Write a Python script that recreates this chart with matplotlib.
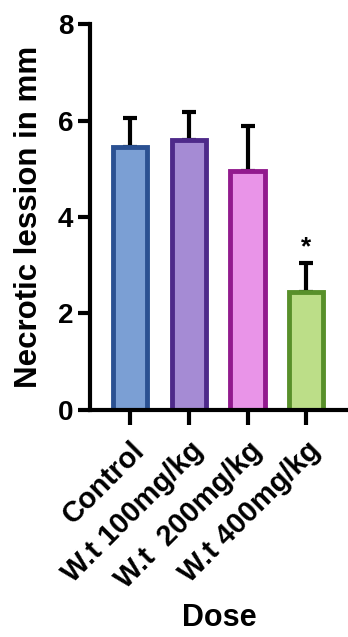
import numpy as np
import matplotlib.pyplot as plt

plt.rcParams['font.family'] = ['Liberation Sans', 'DejaVu Sans']
plt.rcParams['font.weight'] = 'bold'

groups = ['Control', 'W.t 100mg/kg', 'W.t  200mg/kg', 'W.t 400mg/kg']
means = [5.45, 5.6, 4.95, 2.45]
sd = [0.6, 0.57, 0.93, 0.6]
fills = ['#7B9FD4', '#A58BD4', '#E994E8', '#BCDE88']
edges = ['#2B5192', '#4E2A8A', '#921A8E', '#58902A']

fig = plt.figure(figsize=(3.48, 6.37), dpi=100)
ax = fig.add_axes([0.2586, 0.3564, 0.7414, 0.6059])

x = np.arange(len(groups))
ax.errorbar(x, means, yerr=[np.zeros(len(sd)), sd], fmt='none', ecolor='black',
            elinewidth=3, capsize=5, capthick=3, zorder=1)
ax.bar(x, means, width=0.58, color=fills, edgecolor=edges, linewidth=3.5, zorder=2)
ax.text(3, 3.38, '*', ha='center', va='center', fontsize=19, fontweight='bold')

ax.set_ylim(0, 8)
ax.set_xlim(-0.68, 3.71)
ax.set_yticks([0, 2, 4, 6, 8])
ax.set_xticks(x)
ax.set_xticklabels(groups, rotation=45, ha='right', rotation_mode='anchor', fontsize=21)
ax.tick_params(axis='y', labelsize=20, length=9, width=3, pad=3)
ax.tick_params(axis='x', length=11, width=3, pad=8)
for s in ['top', 'right']:
    ax.spines[s].set_visible(False)
for s in ['left', 'bottom']:
    ax.spines[s].set_linewidth(3)
ax.set_ylabel('Necrotic lession in mm', fontsize=22.5, fontweight='bold', labelpad=10)
ax.set_xlabel('Dose', fontsize=22, fontweight='bold')
ax.xaxis.set_label_coords(0.5, -0.50)

fig.savefig('out.png', dpi=100)
